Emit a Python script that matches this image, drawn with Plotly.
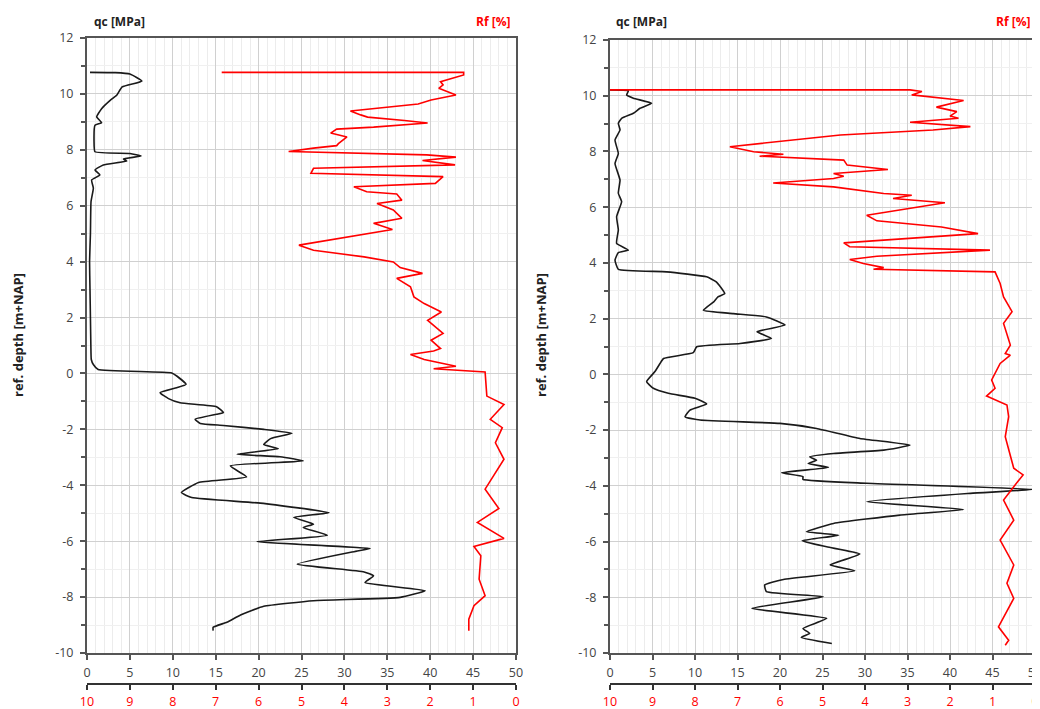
import plotly.graph_objects as go

# ---------------- data ----------------
# Left CPT
left_qc_depth = [10.77, 10.76, 10.71, 10.46, 10.25, 9.95, 9.77, 9.47, 9.18, 8.97, 8.88, 8.29, 7.93, 7.87,
                 7.78, 7.67, 7.6, 7.46, 7.28, 7.1, 6.92, 6.63, 6.15, 5.0, 4.0, 3.0, 2.0, 1.0, 0.5, 0.32,
                 0.14, 0.02, -0.1, -0.39, -0.51, -0.69, -0.9, -1.05, -1.19, -1.4, -1.46, -1.64, -1.79,
                 -1.86, -2.0, -2.14, -2.33, -2.54, -2.69, -2.89, -2.98, -3.13, -3.31, -3.7, -3.9, -4.26,
                 -4.44, -4.64, -4.98, -5.15, -5.39, -5.51, -5.79, -6.02, -6.26, -6.35, -6.82, -7.1, -7.24,
                 -7.48, -7.77, -8.01, -8.13, -8.33, -8.64, -8.9, -9.08, -9.2]
left_qc = [0.35, 3.3, 5.0, 6.4, 4.1, 3.46, 2.7, 1.7, 1.13, 1.7, 0.93, 0.82, 0.93, 5.0,
           6.3, 4.24, 4.63, 1.9, 0.93, 1.5, 0.54, 0.74, 0.47, 0.4, 0.3, 0.35, 0.4, 0.45, 0.5, 0.74,
           1.3, 9.88, 10.5, 11.55, 10.46, 8.52, 9.5, 10.85, 15.1, 15.9, 15.1, 12.6, 13.2,
           15.9, 20.6, 23.9, 21.4, 20.6, 22.3, 17.5, 22.5, 25.2, 16.7, 18.6, 13.0, 11.0,
           12.2, 20.2, 28.2, 24.1, 26.4, 25.2, 28.0, 19.8, 33.0, 31.5, 24.5, 32.3, 33.4,
           32.4, 39.4, 36.5, 26.4, 20.6, 17.9, 16.3, 14.7, 14.7]

left_rf_depth = [10.77, 10.77, 10.68, 10.44, 10.32, 10.2, 9.96, 9.78, 9.64, 9.52, 9.39, 9.25, 9.17, 9.05,
                 8.96, 8.81, 8.74, 8.6, 8.46, 8.22, 8.15, 8.06, 7.94, 7.82, 7.74, 7.62, 7.46, 7.34,
                 7.16, 7.04, 6.8, 6.68, 6.5, 6.42, 6.2, 6.08, 5.85, 5.55, 5.37, 5.15, 4.89, 4.59,
                 4.41, 4.17, 3.99, 3.79, 3.58, 3.4, 3.1, 2.74, 2.5, 2.2, 1.9, 1.43, 1.19, 0.89, 0.8,
                 0.68, 0.5, 0.26, 0.17, 0.05, -0.81, -1.11, -1.64, -1.94, -2.48, -3.07, -4.14, -4.83,
                 -5.33, -5.9, -6.19, -6.52, -7.36, -7.95, -8.31, -8.79, -9.2]
left_rf = [6.86, 1.22, 1.22, 1.76, 1.7, 1.8, 1.4, 1.98, 2.28, 3.08, 3.86, 3.62, 3.46, 2.6,
           2.06, 3.32, 4.18, 4.32, 3.94, 4.14, 4.18, 4.72, 5.3, 2.08, 1.4, 2.18, 1.42, 4.72,
           4.78, 1.7, 1.88, 3.78, 3.48, 2.78, 2.66, 3.24, 2.86, 2.66, 3.32, 2.88, 3.94, 5.06,
           4.72, 3.54, 2.86, 2.7, 2.18, 2.78, 2.46, 2.38, 2.14, 1.74, 2.06, 1.7, 1.98, 1.76, 1.92,
           2.46, 2.14, 1.4, 1.92, 0.72, 0.68, 0.28, 0.6, 0.32, 0.48, 0.28, 0.72, 0.4,
           0.9, 0.28, 0.98, 0.82, 0.86, 0.72, 0.98, 1.1, 1.1]

# Right CPT
right_qc_depth = [10.21, 10.18, 10.03, 9.91, 9.73, 9.55, 9.37, 9.19, 9.01, 8.77, 8.41, 7.93, 7.57, 6.97,
                  6.5, 6.2, 5.66, 5.18, 4.7, 4.46, 4.37, 4.1, 3.77, 3.68, 3.5, 3.32, 2.9, 2.78, 2.6,
                  2.3, 2.18, 2.06, 1.77, 1.53, 1.29, 1.11, 0.99, 0.78, 0.57, 0.39, 0.1, -0.26, -0.5,
                  -0.68, -0.86, -1.06, -1.28, -1.52, -1.64, -1.76, -1.94, -2.3, -2.54, -2.72, -2.84,
                  -2.96, -3.08, -3.2, -3.34, -3.53, -3.67, -3.77, -3.91, -4.13, -4.27, -4.57, -4.85,
                  -5.05, -5.35, -5.65, -5.77, -5.97, -6.19, -6.45, -6.84, -7.05, -7.36, -7.56, -7.8,
                  -7.98, -8.4, -8.76, -9.12, -9.3, -9.44, -9.66]
right_qc = [0.0, 2.16, 1.96, 2.75, 4.9, 3.53, 2.75, 1.37, 0.98, 1.18, 0.59, 0.98, 0.59, 1.18,
            0.98, 1.37, 0.78, 0.98, 0.78, 2.16, 0.98, 0.59, 0.98, 6.67, 11.37, 12.5, 13.5, 12.7, 12.2,
            10.98, 14.5, 18.4, 20.6, 17.3, 19.0, 15.3, 10.2, 9.8, 6.3, 5.88, 5.29, 4.31, 5.1,
            6.86, 10.0, 11.37, 9.41, 8.82, 10.6, 20.0, 24.3, 29.4, 35.3, 32.2, 26.3,
            23.5, 24.3, 23.3, 25.7, 20.2, 22.7, 22.7, 30.2, 49.8, 42.4, 30.2, 41.6,
            34.1, 26.3, 23.1, 26.9, 22.6, 25.5, 29.4, 25.9, 28.8, 20.4, 18.2, 18.4,
            25.1, 16.7, 25.5, 22.7, 23.5, 22.5, 26.1]

right_rf_depth = [10.21, 10.21, 10.15, 10.03, 9.83, 9.59, 9.43, 9.27, 9.19, 9.05, 8.89, 8.77, 8.59, 8.23,
                  8.17, 7.99, 7.9, 7.83, 7.69, 7.51, 7.35, 7.21, 7.11, 7.03, 6.87, 6.73, 6.49, 6.43,
                  6.31, 6.16, 5.71, 5.51, 5.29, 5.05, 4.72, 4.58, 4.46, 4.24, 4.12, 3.98, 3.83, 3.77,
                  3.68, 3.26, 2.78, 2.25, 1.83, 1.05, 0.75, 0.69, 0.39, -0.2, -0.5, -0.78, -1.1,
                  -1.52, -2.24, -3.37, -3.61, -4.03, -4.51, -5.23, -5.95, -6.84, -7.5, -8.04, -9.06,
                  -9.54, -9.72]
right_rf = [10.0, 2.94, 2.66, 2.9, 1.68, 2.32, 1.84, 2.0, 1.8, 2.94, 1.52, 2.4, 4.58, 6.94,
            7.18, 6.62, 5.92, 6.48, 4.5, 4.42, 3.46, 4.74, 4.5, 4.74, 6.16, 4.74, 3.56, 2.9,
            3.34, 2.12, 3.96, 3.72, 2.2, 1.34, 4.5, 4.36, 1.06, 3.72, 4.36, 4.04, 3.56, 3.8,
            0.94, 0.82, 0.74, 0.54, 0.74, 0.58, 0.7, 0.58, 0.82, 1.02, 0.94, 1.14, 0.66,
            0.62, 0.7, 0.5, 0.28, 0.5, 0.74, 0.5, 0.82, 0.5, 0.66, 0.5, 0.86,
            0.62, 0.7]

qc_ticks = [0, 5, 10, 15, 20, 25, 30, 35, 40, 45, 50]
rf_ticks = [10, 9, 8, 7, 6, 5, 4, 3, 2, 1, 0]
depth_ticks = [12, 10, 8, 6, 4, 2, 0, -2, -4, -6, -8, -10]
depth_labels = ["12", "10", "8", "6", "4", "2", "0", "-2", "-4", "-6", "-8", "-10"]

# ---------------- figure ----------------
# The page body has an 8 px margin, so the figure is drawn 8 px in from the top-left.
OFF = 8
W, H = 1040 - OFF, 709 - OFF
FONT = "Open Sans"
BLACK = "#1a1a1a"
RED = "#ff0000"


def px(x):
    return (x - OFF) / W


def py(y):
    return 1 - (y - OFF) / H


fig = go.Figure()
fig.add_trace(go.Scatter(x=left_qc, y=left_qc_depth, mode="lines", xaxis="x", yaxis="y",
                         line=dict(color=BLACK, width=1.6, shape="spline", smoothing=0.4),
                         showlegend=False))
fig.add_trace(go.Scatter(x=left_rf, y=left_rf_depth, mode="lines", xaxis="x2", yaxis="y",
                         line=dict(color=RED, width=1.6), showlegend=False))
fig.add_trace(go.Scatter(x=right_qc, y=right_qc_depth, mode="lines", xaxis="x3", yaxis="y2",
                         line=dict(color=BLACK, width=1.6, shape="spline", smoothing=0.4),
                         showlegend=False))
fig.add_trace(go.Scatter(x=right_rf, y=right_rf_depth, mode="lines", xaxis="x4", yaxis="y2",
                         line=dict(color=RED, width=1.6), showlegend=False))

tickfont = dict(family=FONT, size=12.5, color="#444")


def main_x(domain, anchor):
    return dict(domain=domain, anchor=anchor, range=[0, 50], tickvals=qc_ticks,
                automargin=False, ticklabeloverflow="allow",
                showline=True, mirror=True, linecolor="#555", linewidth=2,
                ticks="outside", ticklen=5, tickcolor="#555", tickwidth=1.5,
                showgrid=True, gridcolor="#d0d0d0", gridwidth=1, zeroline=False,
                minor=dict(dtick=1, showgrid=True, gridcolor="#ececec", gridwidth=1, ticks=""),
                tickfont=tickfont, ticklabelstandoff=2, fixedrange=True)


def rf_x(over):
    return dict(overlaying=over, anchor="free", position=py(684), range=[10, 0],
                automargin=False, ticklabeloverflow="allow",
                tickvals=rf_ticks, showline=True, linecolor="#333", linewidth=2,
                ticks="outside", ticklen=5, tickcolor="#333", tickwidth=1.5,
                showgrid=False, zeroline=False,
                tickfont=dict(family=FONT, size=12.5, color=RED), ticklabelstandoff=1)


def main_y(domain, anchor):
    return dict(domain=domain, anchor=anchor, range=[-10, 12], tickvals=depth_ticks,
                automargin=False,
                ticktext=depth_labels, showline=True, mirror=True, linecolor="#555",
                linewidth=2, ticks="outside", ticklen=5, tickcolor="#555", tickwidth=1.5,
                showgrid=True, gridcolor="#d0d0d0", gridwidth=1, zeroline=False,
                minor=dict(dtick=1, showgrid=True, gridcolor="#f0f0f0", ticks="outside",
                           ticklen=4, tickcolor="#555"),
                tickfont=tickfont, ticklabelstandoff=4)


fig.update_layout(
    template="none",
    width=W, height=H,
    margin=dict(l=0, r=0, t=0, b=0, autoexpand=False),
    paper_bgcolor="white", plot_bgcolor="white",
    font=dict(family=FONT, size=13, color="#333"),
    xaxis=main_x([px(87), px(516)], "y"),
    xaxis2=rf_x("x"),
    yaxis=main_y([py(653), py(38)], "x"),
    xaxis3=main_x([px(610), px(1035)], "y2"),
    xaxis4=rf_x("x3"),
    yaxis2=main_y([py(653), py(40)], "x3"),
)

ann = []
for x0, x1, yt in [(92, 512, 21), (614, 1032, 21)]:
    ann.append(dict(text="<b>qc [MPa]</b>", x=px(x0), y=py(yt), xref="paper", yref="paper",
                    xanchor="left", yanchor="middle", showarrow=False,
                    font=dict(family=FONT, size=12, color="#222")))
    ann.append(dict(text="<b>Rf [%]</b>", x=px(x1), y=py(yt), xref="paper", yref="paper",
                    xanchor="right", yanchor="middle", showarrow=False,
                    font=dict(family=FONT, size=12, color=RED)))
for xc in [18, 541]:
    ann.append(dict(text="<b>ref. depth [m+NAP]</b>", x=px(xc), y=py(335), xref="paper",
                    yref="paper", xanchor="center", yanchor="middle", showarrow=False,
                    textangle=-90, font=dict(family=FONT, size=13, color="#222")))
fig.update_layout(annotations=ann)

fig.write_html("out.html")
